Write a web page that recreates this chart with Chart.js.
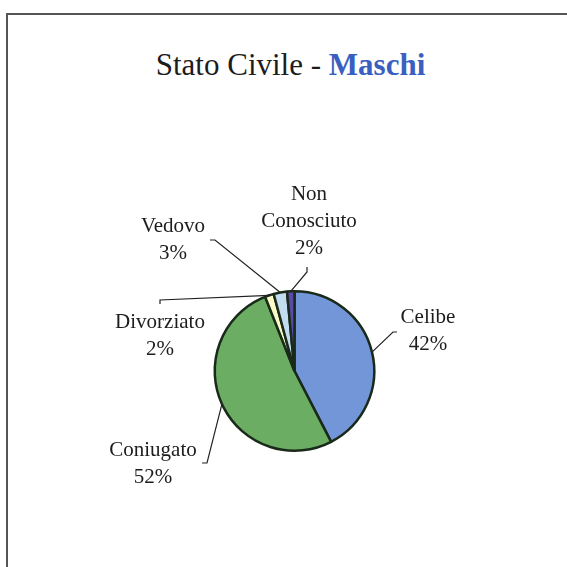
<!DOCTYPE html>
<html>
<head>
<meta charset="utf-8">
<script src="https://cdn.jsdelivr.net/npm/chart.js@4/dist/chart.umd.min.js"></script>
<style>
  html, body { margin: 0; padding: 0; background: #fff; overflow: hidden; }
  #wrap { position: relative; width: 567px; height: 567px; }
  #frame {
    position: absolute; left: 6px; top: 13px; width: 600px; height: 600px;
    border-left: 2px solid #555; border-top: 2px solid #555;
  }
  #title {
    position: absolute; left: 0; top: 47px; width: 581px; text-align: center;
    font-family: "Liberation Serif", "Times New Roman", serif; font-size: 31px; color: #1c1c1c;
  }
  #title b { color: #3b5fc0; }
  canvas { position: absolute; left: 0; top: 0; }
</style>
</head>
<body>
<div id="wrap">
  <div id="frame"></div>
  <div id="title">Stato Civile - <b>Maschi</b></div>
  <canvas id="pie" width="567" height="567"></canvas>
</div>
<script>
// data
const categories = ['Celibe', 'Coniugato', 'Divorziato', 'Vedovo', 'Non Conosciuto'];
const values = [42.4, 51.6, 1.8, 2.7, 1.5];
const colors = ['#7396d8', '#6aad63', '#fbfbc8', '#c2dcf0', '#5a4aa8'];

// label layout, offsets from pie centre: text centre, elbow, tick end
const labelLines = [['Celibe'], ['Coniugato'], ['Divorziato'], ['Vedovo'], ['Non', 'Conosciuto']];
const labelPos = [[133.5, -54], [-141.5, 79], [-134.5, -49], [-121.5, -145], [14.5, -177]];
const elbows = [[98.5, -39], [-87.5, 92], [-134.5, -71], [-79.5, -131], [12.5, -99]];
const ticks = [[102.5, -39], [-92.5, 92], [-134.5, -67], [-84.5, -131], [12.5, -104]];

const labelPlugin = {
    id: 'pieLabels',
    afterDraw(chart) {
        const ctx = chart.ctx;
        const arcs = chart.getDatasetMeta(0).data;
        ctx.save();
        ctx.font = '21px "Liberation Serif", "Times New Roman", serif';
        ctx.fillStyle = '#1c1c1c';
        ctx.textAlign = 'center';
        ctx.textBaseline = 'middle';
        ctx.strokeStyle = '#222';
        ctx.lineWidth = 1.2;
        arcs.forEach((arc, i) => {
            const cx = arc.x, cy = arc.y;
            const mid = (arc.startAngle + arc.endAngle) / 2;
            const ax = cx + Math.cos(mid) * arc.outerRadius;
            const ay = cy + Math.sin(mid) * arc.outerRadius;
            ctx.beginPath();
            ctx.moveTo(ax, ay);
            ctx.lineTo(cx + elbows[i][0], cy + elbows[i][1]);
            ctx.lineTo(cx + ticks[i][0], cy + ticks[i][1]);
            ctx.stroke();
            const lines = labelLines[i].concat([Math.round(values[i]) + '%']);
            lines.forEach((t, k) => {
                ctx.fillText(t, cx + labelPos[i][0], cy + labelPos[i][1] + k * 27);
            });
        });
        ctx.restore();
    }
};

new Chart(document.getElementById('pie').getContext('2d'), {
    type: 'pie',
    data: {
        labels: categories,
        datasets: [{
            data: values,
            backgroundColor: colors,
            borderColor: '#1a2a1a',
            borderWidth: 2.5
        }]
    },
    options: {
        responsive: false,
        animation: false,
        layout: { padding: { left: 213, right: 191, top: 290, bottom: 115 } },
        plugins: {
            legend: { display: false },
            tooltip: { enabled: false }
        }
    },
    plugins: [labelPlugin]
});
</script>
</body>
</html>
